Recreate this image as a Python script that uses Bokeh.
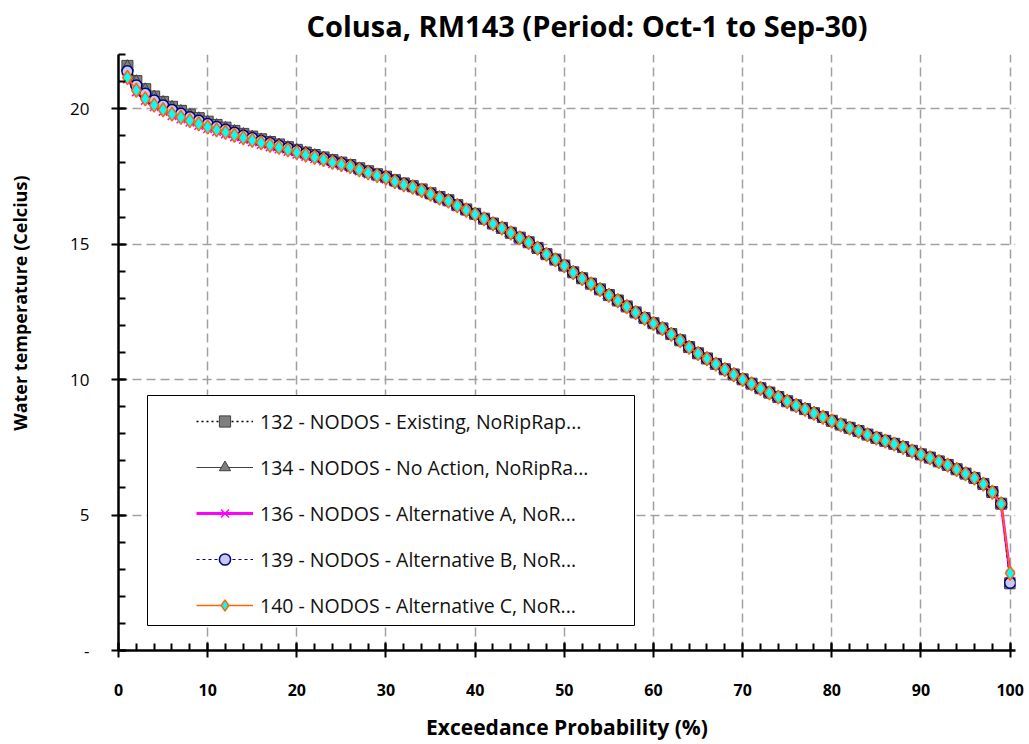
from bokeh.plotting import figure
from bokeh.models import Range1d, SingleIntervalTicker, Legend, LegendItem, BoxAnnotation, Title
from bokeh.embed import file_html
from bokeh.resources import INLINE

# ---------------- data ----------------
exceedance = list(range(1, 101))

s132 = [21.58, 21.02, 20.72, 20.45, 20.25, 20.07, 19.92, 19.78, 19.65, 19.52,
        19.40, 19.30, 19.18, 19.07, 18.97, 18.87, 18.77, 18.68, 18.58, 18.48,
        18.38, 18.29, 18.20, 18.10, 18.01, 17.92, 17.80, 17.69, 17.58, 17.49,
        17.36, 17.24, 17.14, 17.02, 16.88, 16.74, 16.62, 16.44, 16.28, 16.12,
        15.94, 15.76, 15.60, 15.42, 15.24, 15.07, 14.86, 14.63, 14.43, 14.21,
        13.96, 13.74, 13.54, 13.33, 13.12, 12.92, 12.70, 12.48, 12.27, 12.08,
        11.89, 11.68, 11.45, 11.20, 10.97, 10.78, 10.58, 10.38, 10.19, 10.01,
        9.85, 9.68, 9.52, 9.36, 9.20, 9.05, 8.91, 8.76, 8.62, 8.48,
        8.34, 8.22, 8.10, 7.97, 7.85, 7.74, 7.63, 7.51, 7.37, 7.24,
        7.12, 6.98, 6.85, 6.69, 6.53, 6.37, 6.15, 5.85, 5.42, 2.48]

s134 = [21.55, 21.00, 20.70, 20.43, 20.23, 20.05, 19.90, 19.76, 19.63, 19.50,
        19.38, 19.28, 19.16, 19.05, 18.95, 18.85, 18.75, 18.66, 18.56, 18.46,
        18.36, 18.27, 18.18, 18.08, 17.99, 17.90, 17.78, 17.67, 17.56, 17.47,
        17.34, 17.22, 17.12, 17.00, 16.86, 16.72, 16.61, 16.43, 16.27, 16.11,
        15.93, 15.75, 15.59, 15.41, 15.23, 15.06, 14.85, 14.62, 14.42, 14.20,
        13.95, 13.73, 13.53, 13.32, 13.11, 12.91, 12.69, 12.47, 12.26, 12.07,
        11.88, 11.67, 11.44, 11.19, 10.96, 10.77, 10.57, 10.37, 10.18, 10.00,
        9.84, 9.67, 9.51, 9.35, 9.19, 9.04, 8.90, 8.75, 8.61, 8.47,
        8.33, 8.21, 8.09, 7.96, 7.84, 7.73, 7.62, 7.50, 7.36, 7.23,
        7.11, 6.97, 6.84, 6.68, 6.52, 6.36, 6.14, 5.84, 5.41, 2.50]

s136 = [21.10, 20.62, 20.30, 20.07, 19.90, 19.74, 19.62, 19.50, 19.38, 19.26,
        19.16, 19.07, 18.96, 18.86, 18.77, 18.68, 18.59, 18.51, 18.42, 18.32,
        18.24, 18.15, 18.07, 17.97, 17.89, 17.81, 17.70, 17.59, 17.49, 17.40,
        17.28, 17.16, 17.07, 16.95, 16.81, 16.67, 16.56, 16.38, 16.22, 16.07,
        15.91, 15.73, 15.57, 15.39, 15.21, 15.04, 14.83, 14.60, 14.40, 14.18,
        13.93, 13.71, 13.51, 13.30, 13.09, 12.89, 12.67, 12.45, 12.24, 12.05,
        11.86, 11.65, 11.42, 11.17, 10.94, 10.75, 10.55, 10.35, 10.16, 9.98,
        9.82, 9.65, 9.49, 9.33, 9.17, 9.02, 8.88, 8.73, 8.59, 8.45,
        8.31, 8.19, 8.07, 7.94, 7.82, 7.71, 7.60, 7.48, 7.34, 7.21,
        7.09, 6.95, 6.82, 6.66, 6.50, 6.34, 6.12, 5.82, 5.39, 2.80]

s139 = [21.38, 20.86, 20.55, 20.30, 20.12, 19.95, 19.81, 19.68, 19.55, 19.43,
        19.32, 19.22, 19.11, 19.00, 18.91, 18.81, 18.72, 18.63, 18.54, 18.44,
        18.34, 18.25, 18.16, 18.06, 17.98, 17.89, 17.77, 17.66, 17.56, 17.47,
        17.34, 17.22, 17.12, 17.00, 16.86, 16.72, 16.61, 16.43, 16.27, 16.11,
        15.94, 15.76, 15.60, 15.42, 15.24, 15.07, 14.86, 14.63, 14.43, 14.21,
        13.96, 13.74, 13.54, 13.33, 13.12, 12.92, 12.70, 12.48, 12.27, 12.08,
        11.89, 11.68, 11.45, 11.20, 10.97, 10.78, 10.58, 10.38, 10.19, 10.01,
        9.85, 9.68, 9.52, 9.36, 9.20, 9.05, 8.91, 8.76, 8.62, 8.48,
        8.34, 8.22, 8.10, 7.97, 7.85, 7.74, 7.63, 7.51, 7.37, 7.24,
        7.12, 6.98, 6.85, 6.69, 6.53, 6.37, 6.15, 5.85, 5.42, 2.50]

s140 = [21.15, 20.68, 20.36, 20.13, 19.96, 19.80, 19.68, 19.56, 19.44, 19.32,
        19.22, 19.13, 19.02, 18.92, 18.83, 18.74, 18.65, 18.57, 18.48, 18.38,
        18.29, 18.20, 18.12, 18.02, 17.94, 17.86, 17.74, 17.63, 17.53, 17.44,
        17.31, 17.19, 17.10, 16.98, 16.84, 16.70, 16.59, 16.41, 16.25, 16.10,
        15.93, 15.75, 15.59, 15.41, 15.23, 15.06, 14.85, 14.62, 14.42, 14.20,
        13.95, 13.73, 13.53, 13.32, 13.11, 12.91, 12.69, 12.47, 12.26, 12.07,
        11.88, 11.67, 11.44, 11.19, 10.96, 10.77, 10.57, 10.37, 10.18, 10.00,
        9.84, 9.67, 9.51, 9.35, 9.19, 9.04, 8.90, 8.75, 8.61, 8.47,
        8.33, 8.21, 8.09, 7.96, 7.84, 7.73, 7.62, 7.50, 7.36, 7.23,
        7.11, 6.97, 6.84, 6.68, 6.52, 6.36, 6.14, 5.84, 5.41, 2.85]

labels = ["132 - NODOS - Existing, NoRipRap...",
          "134 - NODOS - No Action, NoRipRa...",
          "136 - NODOS - Alternative A, NoR...",
          "139 - NODOS - Alternative B, NoR...",
          "140 - NODOS - Alternative C, NoR..."]

title_text = "Colusa, RM143 (Period: Oct-1 to Sep-30)"
x_label = "Exceedance Probability (%)"
y_label = "Water temperature (Celcius)"

FONT = "Open Sans"

# ---------------- figure ----------------
p = figure(frame_width=897, frame_height=596,
           min_border_left=118, min_border_right=14,
           min_border_top=54, min_border_bottom=94,
           x_range=Range1d(0, 100.6), y_range=Range1d(0, 22),
           output_backend="svg", toolbar_location=None,
           background_fill_color="white", border_fill_color="white",
           outline_line_color=None, title=title_text)

p.title.align = "left"
p.title.offset = 188
p.title.text_font = FONT
p.title.text_font_size = "29px"
p.title.text_font_style = "bold"
p.title.text_color = "black"
p.title.standoff = 2

# thin empty band between the title and the plot area
p.add_layout(Title(text=" ", text_font_size="7px", standoff=0), "above")

xa = p.xaxis[0]
ya = p.yaxis[0]
xa.ticker = SingleIntervalTicker(interval=10, num_minor_ticks=5)
ya.ticker = SingleIntervalTicker(interval=5, num_minor_ticks=5)
ya.major_label_overrides = {0: "-"}

for ax in (xa, ya):
    ax.axis_line_color = "black"
    ax.axis_line_width = 2.5
    ax.major_tick_line_color = "black"
    ax.major_tick_line_width = 2
    ax.minor_tick_line_color = "black"
    ax.minor_tick_line_width = 2
    ax.major_tick_in = 8
    ax.major_tick_out = 7
    ax.minor_tick_in = 7
    ax.minor_tick_out = 0
    ax.major_label_text_font = FONT
    ax.major_label_text_color = "black"
    ax.axis_label_text_font = FONT
    ax.axis_label_text_font_style = "bold"
    ax.axis_label_text_color = "black"

xa.major_label_text_font_size = "16px"
xa.major_label_text_font_style = "bold"
xa.major_label_standoff = 26
xa.axis_label = x_label
xa.axis_label_text_font_size = "21px"
xa.axis_label_standoff = 14

ya.major_label_text_font_size = "17px"
ya.major_label_standoff = 22
ya.axis_label = " "
ya.axis_label_text_font_size = "16px"
ya.axis_label_standoff = 8

# y-axis title, sitting above the axis centre as in the reference
ytitle = Title(text=y_label, align="right", offset=121,
               text_font=FONT, text_font_size="18px", text_font_style="bold",
               text_color="black", standoff=6)
p.add_layout(ytitle, "left")

for g in (p.xgrid[0], p.ygrid[0]):
    g.grid_line_color = "#a0a0a0"
    g.grid_line_width = 1.5
    g.grid_line_dash = "9 5"

# ---------------- series ----------------
styles = [
    (s132, dict(line_color="black", line_width=1.5, line_dash="2 3"),
     dict(marker="square", size=11, fill_color="#7f7f7f", line_color="#404040", line_width=1)),
    (s134, dict(line_color="#404040", line_width=1),
     dict(marker="triangle", size=12, fill_color="#7f7f7f", line_color="#404040", line_width=1)),
    (s136, dict(line_color="#ff00ff", line_width=3),
     dict(marker="x", size=12, line_color="#ff00ff", line_width=1.5)),
    (s139, dict(line_color="#000080", line_width=1, line_dash="3 3"),
     dict(marker="circle", size=11, fill_color="#c8c8f0", line_color="#000080", line_width=1.5)),
    (s140, dict(line_color="#ff6600", line_width=1.5),
     dict(marker="diamond", size=14, fill_color="#00ffff", line_color="#ff6600", line_width=1.5)),
]

items = []
for (ys, lkw, mkw), lab in zip(styles, labels):
    lr = p.line(exceedance, ys, **lkw)
    sr = p.scatter(exceedance, ys, **mkw)
    items.append(LegendItem(label=lab, renderers=[lr, sr]))

# legend frame
box = BoxAnnotation(left=29, right=516, bottom=25, top=255,
                    left_units="screen", right_units="screen",
                    bottom_units="screen", top_units="screen",
                    fill_color="white", fill_alpha=1.0,
                    line_color="black", line_width=1, line_alpha=1.0)
p.add_layout(box)

legend = Legend(items=items, location=(78, 31),
                padding=0, spacing=18, glyph_width=57, glyph_height=28,
                label_height=28, label_standoff=7,
                label_text_font=FONT, label_text_font_size="19.5px",
                label_text_color="#111111",
                border_line_alpha=0, background_fill_alpha=0)
p.add_layout(legend, "center")

open("out.html", "w").write(file_html(p, INLINE))
